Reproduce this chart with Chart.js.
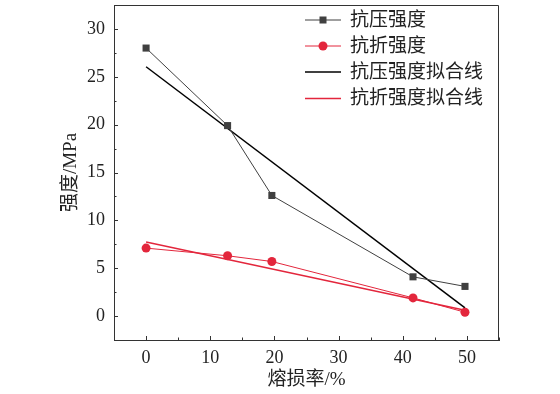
<!DOCTYPE html>
<html>
<head>
<meta charset="utf-8">
<script src="https://cdn.jsdelivr.net/npm/chart.js@4.4.0/dist/chart.umd.min.js"></script>
<style>
  html, body { margin: 0; padding: 0; background: #fff; }
  #wrap { width: 560px; height: 394px; position: relative; }
</style>
</head>
<body>
<div id="wrap"><canvas id="chart" width="560" height="394"></canvas></div>
<script>
// measured data (熔损率 %, 强度 MPa)
const lossRate = [0, 12.7, 19.6, 41.6, 49.7];
const compStrength = [28.0, 19.9, 12.6, 4.1, 3.1];
const flexStrength = [7.1, 6.3, 5.7, 1.9, 0.4];

// fitted lines, end points only
const fitX = [0, 49.7];
const compFit = [26.05, 0.85];
const flexFit = [7.75, 0.6];

const xTicks = [0, 10, 20, 30, 40, 50];
const yTicks = [0, 5, 10, 15, 20, 25, 30];

const seriesLabels = ['抗压强度', '抗折强度', '抗压强度拟合线', '抗折强度拟合线'];

const GRAY = '#404040';
const RED = '#e3263c';
const AXIS = '#333333';
const SERIF = '"Liberation Serif", "Noto Sans CJK SC", serif';

const toPts = (xs, ys) => xs.map((x, i) => ({ x: x, y: ys[i] }));

// inward ticks, frame and legend
const framePlugin = {
    id: 'frame',
    afterDraw(chart) {
        const ctx = chart.ctx;
        const a = chart.chartArea;
        const xs = chart.scales.x, ys = chart.scales.y;
        ctx.save();
        ctx.strokeStyle = AXIS;
        ctx.lineWidth = 1;
        ctx.beginPath();
        ctx.moveTo(a.left, a.top + 0.5);
        ctx.lineTo(a.right - 0.5, a.top + 0.5);
        ctx.lineTo(a.right - 0.5, a.bottom);
        ctx.stroke();
        ctx.beginPath();
        for (let v = -5; v <= 55; v += 5) {
            const px = Math.round(xs.getPixelForValue(v)) + 0.5;
            const len = v % 10 === 0 ? 4 : 2.5;
            ctx.moveTo(px, a.bottom);
            ctx.lineTo(px, a.bottom - len);
        }
        for (let v = -2.5; v <= 32.5; v += 2.5) {
            const py = Math.round(ys.getPixelForValue(v)) + 0.5;
            const len = v % 5 === 0 ? 4 : 2.5;
            ctx.moveTo(a.left, py);
            ctx.lineTo(a.left + len, py);
        }
        ctx.stroke();

        // legend
        const rows = [20, 46, 72, 98.5];
        const x0 = 305, x1 = 341, tx = 350;
        ctx.font = '19px ' + SERIF;
        ctx.textBaseline = 'middle';
        ctx.textAlign = 'left';
        chart.data.datasets.forEach((ds, i) => {
            const y = rows[i];
            ctx.strokeStyle = ds.borderColor;
            ctx.lineWidth = ds.borderWidth;
            ctx.beginPath();
            ctx.moveTo(x0, y);
            ctx.lineTo(x1, y);
            ctx.stroke();
            if (ds.pointRadius > 0) {
                ctx.fillStyle = ds.pointBackgroundColor;
                if (ds.pointStyle === 'rect') {
                    ctx.fillRect((x0 + x1) / 2 - 3.5, y - 3.5, 7, 7);
                } else {
                    ctx.beginPath();
                    ctx.arc((x0 + x1) / 2, y, 4.5, 0, Math.PI * 2);
                    ctx.fill();
                }
            }
            ctx.fillStyle = '#222';
            ctx.fillText(ds.label, tx, y + 1);
        });
        ctx.restore();
    }
};

new Chart(document.getElementById('chart').getContext('2d'), {
    type: 'scatter',
    data: {
        datasets: [
            {
                label: seriesLabels[0],
                data: toPts(lossRate, compStrength),
                showLine: true,
                borderColor: GRAY,
                borderWidth: 1,
                pointStyle: 'rect',
                pointRadius: 5,
                pointBackgroundColor: GRAY,
                pointBorderColor: GRAY,
                pointBorderWidth: 0,
            },
            {
                label: seriesLabels[1],
                data: toPts(lossRate, flexStrength),
                showLine: true,
                borderColor: RED,
                borderWidth: 1,
                pointStyle: 'circle',
                pointRadius: 4.5,
                pointBackgroundColor: RED,
                pointBorderColor: RED,
                pointBorderWidth: 0,
            },
            {
                label: seriesLabels[2],
                data: toPts(fitX, compFit),
                showLine: true,
                borderColor: '#000000',
                borderWidth: 1.5,
                pointRadius: 0,
            },
            {
                label: seriesLabels[3],
                data: toPts(fitX, flexFit),
                showLine: true,
                borderColor: RED,
                borderWidth: 1.5,
                pointRadius: 0,
            },
        ],
    },
    options: {
        responsive: false,
        animation: false,
        layout: { padding: { left: 0, top: 1, right: 61, bottom: 0 } },
        plugins: {
            legend: { display: false },
            tooltip: { enabled: false },
        },
        scales: {
            x: {
                type: 'linear',
                min: -5,
                max: 55,
                afterBuildTicks: (s) => { s.ticks = xTicks.map(v => ({ value: v })); },
                afterFit: (s) => { s.height = 54; s.paddingLeft = 0; s.paddingRight = 0; },
                grid: { display: false, drawTicks: false },
                border: { display: true, color: AXIS, width: 1 },
                ticks: { color: '#222', padding: 7, font: { family: SERIF, size: 18 } },
                title: {
                    display: true,
                    text: '熔损率/%',
                    color: '#222',
                    font: { family: SERIF, size: 19 },
                    padding: { top: 0, bottom: 3 },
                },
            },
            y: {
                type: 'linear',
                min: -2.5,
                max: 32.5,
                afterBuildTicks: (s) => { s.ticks = yTicks.map(v => ({ value: v })); },
                afterFit: (s) => { s.width = 114; s.paddingTop = 0; s.paddingBottom = 0; },
                grid: { display: false, drawTicks: false },
                border: { display: true, color: AXIS, width: 1 },
                ticks: { color: '#222', padding: 9, font: { family: SERIF, size: 18 } },
                title: {
                    display: true,
                    text: '强度/MPa',
                    color: '#222',
                    font: { family: SERIF, size: 19 },
                    padding: { top: 60, bottom: 0 },
                },
            },
        },
    },
    plugins: [framePlugin],
});
</script>
</body>
</html>
